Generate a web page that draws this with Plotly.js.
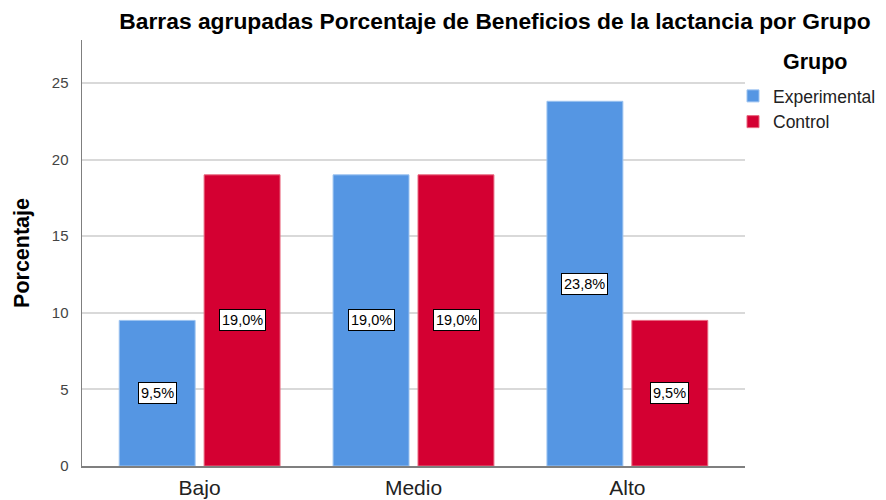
<!DOCTYPE html>
<html>
<head>
<meta charset="utf-8">
<script src="https://cdn.plot.ly/plotly-3.0.1.min.js"></script>
<style>html,body{margin:0;padding:0;background:#fff;}#chart{width:886px;height:500px;}</style>
</head>
<body>
<div id="chart"></div>
<script>
const categories = ["Bajo", "Medio", "Alto"];
const seriesNames = ["Experimental", "Control"];
const experimental = [9.5, 19.0, 23.8];
const control = [19.0, 19.0, 9.5];
const yTicks = [0, 5, 10, 15, 20, 25];
const legendTitle = "Grupo";

const colors = ["#5596E3", "#D40032"];
const lineColors = ["#9CC3F0", "#E8677F"];
const values = [experimental, control];

const traces = values.map((v, i) => ({
  type: "bar",
  name: seriesNames[i],
  x: categories,
  y: v,
  marker: { color: colors[i], line: { color: lineColors[i], width: 1 } },
  hoverinfo: "skip"
}));

const fmt = v => v.toFixed(1).replace(".", ",") + "%";
const annotations = [];
values.forEach((v, i) => {
  v.forEach((val, j) => {
    annotations.push({
      x: categories[j], y: val / 2, xref: "x", yref: "y",
      xshift: i === 0 ? -42.5 : 42.5,
      text: fmt(val), showarrow: false,
      font: { family: "Liberation Sans, Arial, sans-serif", size: 14.5, color: "#000" },
      bgcolor: "#ffffff", bordercolor: "#000000", borderwidth: 1, borderpad: 2
    });
  });
});
annotations.push({
  x: (815 - 82) / 663, xref: "paper", xanchor: "center",
  y: (466 - 62) / 426, yref: "paper", yanchor: "middle",
  text: "<b>" + legendTitle + "</b>", showarrow: false,
  font: { family: "Liberation Sans, Arial, sans-serif", size: 21.5, color: "#000" }
});

const layout = {
  width: 886, height: 500,
  margin: { l: 82, r: 141, t: 40, b: 34, autoexpand: false },
  paper_bgcolor: "#fff", plot_bgcolor: "#fff",
  font: { family: "Liberation Sans, Arial, sans-serif", color: "#000" },
  title: {
    text: "<b>Barras agrupadas Porcentaje de Beneficios de la lactancia por Grupo</b>",
    font: { size: 22.8, color: "#000" },
    x: 495 / 886, xanchor: "center", xref: "container", y: 1 - 21 / 500, yanchor: "middle", yref: "container"
  },
  barmode: "group",
  bargap: 0.206,
  bargroupgap: 0.106,
  xaxis: {
    type: "category",
    range: [-0.55, 2.55],
    showline: true, linecolor: "#7f7f7f", linewidth: 1.5,
    ticks: "", showgrid: false,
    tickfont: { size: 21, color: "#222" },
    ticklabelstandoff: 2,
    fixedrange: true
  },
  yaxis: {
    range: [0, 27.8],
    tickvals: yTicks,
    showline: true, linecolor: "#7f7f7f", linewidth: 1.5,
    ticks: "",
    showgrid: true, gridcolor: "#d9d9d9", gridwidth: 2,
    zeroline: false,
    tickfont: { size: 15, color: "#444" },
    ticklabelstandoff: 9,
    title: { text: "<b>Porcentaje</b>", font: { size: 21.5, color: "#000" }, standoff: 16 },
    fixedrange: true
  },
  legend: {
    x: (733 - 82) / 663, xanchor: "left", y: 1 - (78 - 40) / 426, yanchor: "top",
    font: { size: 17.5, color: "#222" },
    itemwidth: 30, tracegroupgap: 0,
    bgcolor: "rgba(0,0,0,0)"
  },
  showlegend: true,
  annotations: annotations
};

Plotly.newPlot("chart", traces, layout, { displayModeBar: false, staticPlot: true });
</script>
</body>
</html>
